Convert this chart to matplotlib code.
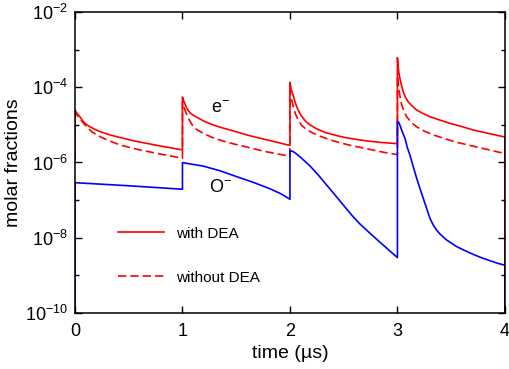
import matplotlib
matplotlib.use('Agg')
import matplotlib.pyplot as plt
from matplotlib.ticker import NullFormatter

plt.rcParams['font.family'] = ['Liberation Sans', 'DejaVu Sans']
plt.rcParams['mathtext.default'] = 'regular'

# time in microseconds, molar fractions
t_e_with = [0.0, 0.0, 0.012, 0.027, 0.047, 0.07, 0.093, 0.115, 0.14, 0.185, 0.233, 0.326, 0.42, 0.512,
            0.6, 0.698, 0.79, 0.884, 1.0,
            1.0, 1.01, 1.025, 1.045, 1.07, 1.1, 1.132, 1.2, 1.287, 1.36, 1.442, 1.52, 1.597, 1.675,
            1.752, 1.87, 1.984, 2.0,
            2.0, 2.005, 2.012, 2.02, 2.031, 2.045, 2.062, 2.085, 2.109, 2.145, 2.186, 2.25, 2.326,
            2.42, 2.512, 2.62, 2.728, 2.85, 2.977, 3.0,
            3.0, 3.004, 3.008, 3.015, 3.023, 3.038, 3.054, 3.075, 3.1, 3.135, 3.178, 3.23, 3.302,
            3.39, 3.488, 3.6, 3.705, 3.85, 3.984, 4.0, 4.0]
e_with = [1.16e-6, 2.48e-5, 2.15e-5, 1.88e-5, 1.62e-5, 1.3e-5, 1.1e-5, 9.8e-6, 8.9e-6, 7.6e-6, 6.6e-6, 5.4e-6, 4.6e-6, 3.96e-6,
          3.5e-6, 3.1e-6, 2.75e-6, 2.47e-6, 2.15e-6,
          5.5e-5, 4.5e-5, 3.5e-5, 2.6e-5, 2.1e-5, 1.8e-5, 1.6e-5, 1.25e-5, 9.9e-6, 8.5e-6, 7.3e-6, 6.3e-6, 5.4e-6, 4.75e-6,
          4.2e-6, 3.5e-6, 2.9e-6, 2.85e-6,
          1.35e-4, 1.1e-4, 8.8e-5, 7.4e-5, 6.0e-5, 4.3e-5, 3.1e-5, 2.2e-5, 1.7e-5, 1.25e-5, 1.0e-5, 7.8e-6, 6.3e-6,
          5.3e-6, 4.6e-6, 4.1e-6, 3.7e-6, 3.4e-6, 3.2e-6, 3.15e-6,
          6.1e-4, 4.3e-4, 3.3e-4, 2.3e-4, 1.73e-4, 1.1e-4, 7.6e-5, 5.4e-5, 4.1e-5, 3.2e-5, 2.5e-5, 2.05e-5, 1.65e-5,
          1.35e-5, 1.1e-5, 9.0e-6, 7.3e-6, 5.9e-6, 4.85e-6, 4.8e-6, 1e-10]

t_e_without = [0.0, 0.0, 0.012, 0.03, 0.062, 0.085, 0.109, 0.16, 0.233, 0.32, 0.419, 0.51, 0.605, 0.7,
               0.791, 0.9, 1.0,
               1.0, 1.01, 1.025, 1.039, 1.06, 1.09, 1.132, 1.2, 1.287, 1.36, 1.442, 1.52, 1.597, 1.675,
               1.752, 1.87, 1.984, 2.0,
               2.0, 2.008, 2.018, 2.031, 2.05, 2.077, 2.105, 2.14, 2.2, 2.264, 2.35, 2.45, 2.55, 2.667,
               2.8, 2.9, 2.977, 3.0,
               3.0, 3.006, 3.015, 3.025, 3.039, 3.06, 3.086, 3.13, 3.178, 3.25, 3.333, 3.44, 3.55, 3.66,
               3.767, 3.88, 3.984, 4.0]
e_without = [1.16e-6, 2.48e-5, 2.0e-5, 1.6e-5, 1.3e-5, 1.05e-5, 8.9e-6, 6.4e-6, 4.85e-6, 3.75e-6, 2.92e-6, 2.5e-6, 2.15e-6, 1.9e-6,
             1.68e-6, 1.47e-6, 1.29e-6,
             4e-5, 3.2e-5, 2.4e-5, 1.9e-5, 1.4e-5, 1.0e-5, 7.5e-6, 5.8e-6, 4.5e-6, 3.85e-6, 3.3e-6, 2.9e-6, 2.58e-6, 2.28e-6,
             2.0e-6, 1.72e-6, 1.49e-6, 1.47e-6,
             8e-5, 6e-5, 4.4e-5, 3.1e-5, 2.0e-5, 1.35e-5, 1.0e-5, 8.1e-6, 6.3e-6, 5.2e-6, 4.2e-6, 3.44e-6, 2.9e-6, 2.47e-6,
             2.05e-6, 1.8e-6, 1.65e-6, 1.63e-6,
             2e-4, 1.4e-4, 8.5e-5, 5.5e-5, 3.5e-5, 2.3e-5, 1.65e-5, 1.15e-5, 8.9e-6, 6.8e-6, 5.4e-6, 4.3e-6, 3.44e-6, 2.9e-6,
             2.47e-6, 2.07e-6, 1.76e-6, 1.75e-6]

t_o = [0.0, 0.0, 0.5, 1.0,
       1.0, 1.193, 1.35, 1.504, 1.66, 1.814, 1.92, 2.0,
       2.0, 2.031, 2.062, 2.109, 2.186, 2.263, 2.341, 2.419, 2.496, 2.574, 2.651, 2.728, 2.806, 2.884, 3.0,
       3.0, 3.011, 3.023, 3.039, 3.07, 3.09, 3.116, 3.147, 3.179, 3.209, 3.24, 3.271, 3.302, 3.333,
       3.364, 3.395, 3.457, 3.551, 3.63, 3.705, 3.78, 3.86, 3.93, 4.0, 4.0]
o_minus = [1e-10, 2.9e-7, 2.4e-7, 1.94e-7,
           9.9e-7, 8.0e-7, 6.0e-7, 4.2e-7, 2.95e-7, 2.0e-7, 1.45e-7, 1.05e-7,
           2.06e-6, 1.94e-6, 1.68e-6, 1.29e-6, 8.1e-7, 4.66e-7, 2.52e-7, 1.37e-7, 7.4e-8, 4.0e-8, 2.32e-8, 1.45e-8, 9.1e-9, 5.8e-9, 2.95e-9,
           1.22e-5, 1.18e-5, 9.9e-6, 7.3e-6, 4.4e-6, 2.6e-6, 1.58e-6, 7.8e-7, 3.8e-7, 2.06e-7, 1.12e-7, 6.1e-8, 3.3e-8, 2.18e-8,
           1.6e-8, 1.26e-8, 8.7e-9, 5.8e-9, 4.5e-9, 3.6e-9, 2.95e-9, 2.45e-9, 2.1e-9, 1.85e-9, 1e-10]

fig = plt.figure(figsize=(5.1, 3.69), dpi=100)
ax = fig.add_subplot(111)
fig.subplots_adjust(left=0.147, right=0.99, top=0.9675, bottom=0.152)

red = '#ff0000'
ax.plot(t_e_with, e_with, color=red, lw=1.2, label='with DEA')
ax.plot(t_e_without, e_without, color=red, lw=1.2, dashes=(5, 2.4), label='without DEA')
ax.plot(t_o, o_minus, color='#0000ff', lw=1.2)

ax.set_yscale('log')
ax.set_xlim(0, 4)
ax.set_ylim(1e-10, 1e-2)
ax.set_xticks([0, 1, 2, 3, 4])
ax.set_yticks([1e-10, 1e-8, 1e-6, 1e-4, 1e-2])
ax.set_yticks([1e-9, 1e-7, 1e-5, 1e-3], minor=True)
ax.yaxis.set_minor_formatter(NullFormatter())
ax.tick_params(which='both', direction='in', top=True, right=True, labelsize=13, width=1.0)
ax.tick_params(which='major', length=5, pad=5)
ax.tick_params(axis='x', which='major', pad=7)
ax.tick_params(which='minor', length=3)
for s in ax.spines.values():
    s.set_linewidth(1.1)

ax.set_xlabel('time (µs)', fontsize=14, labelpad=4)
ax.set_ylabel('molar fractions', fontsize=14, labelpad=2)

ax.text(1.35, 2.8e-5, r'e$^{-}$', fontsize=13, ha='center', va='center')
ax.text(1.35, 2.1e-7, r'O$^{-}$', fontsize=13, ha='center', va='center')

ax.legend(loc='center left', bbox_to_anchor=(0.1, 0.19), frameon=False, fontsize=11,
          handlelength=3.0, handletextpad=0.8, labelspacing=1.95, borderpad=0, borderaxespad=0)

fig.savefig('out.png', dpi=100)
